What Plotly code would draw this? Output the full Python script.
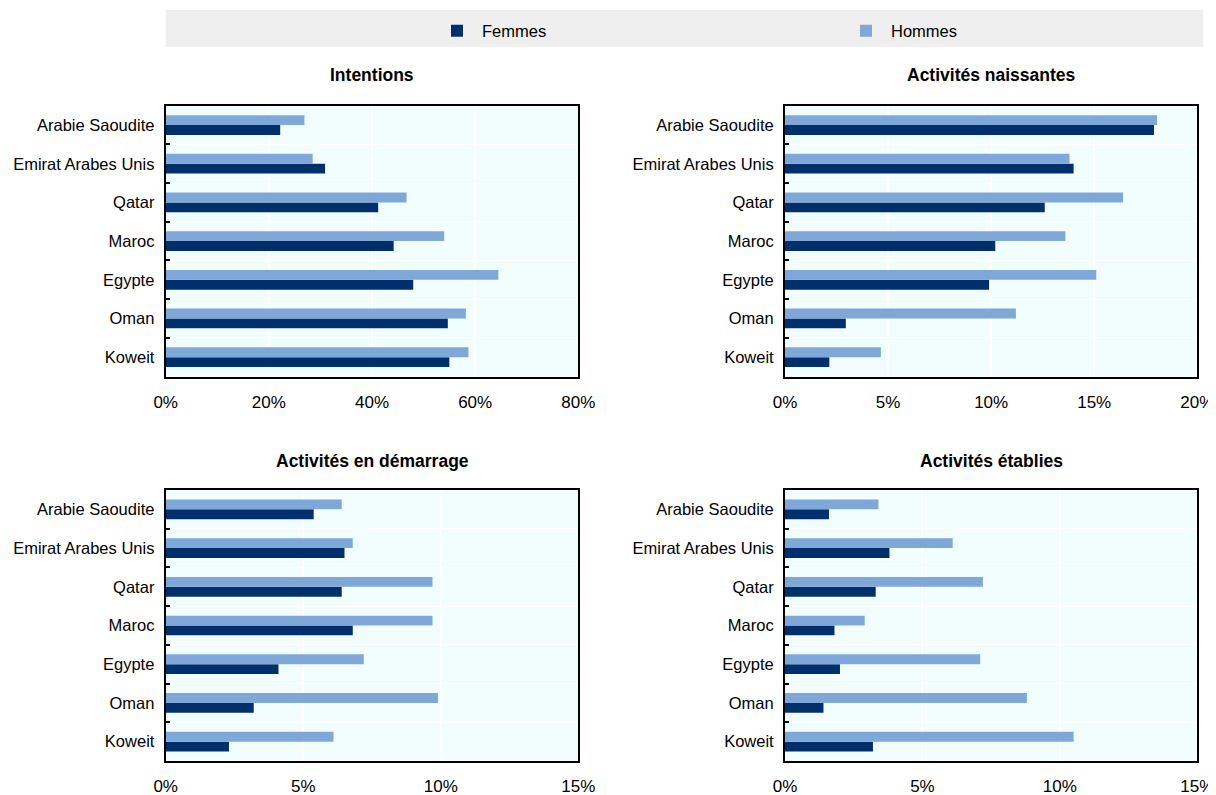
import plotly.graph_objects as go

# The page body has an 8px margin, so the figure is drawn 8px in from the window corner.
OFF = 8
W, H = 1216 - OFF, 795 - OFF

countries = ["Arabie Saoudite", "Emirat Arabes Unis", "Qatar", "Maroc", "Egypte", "Oman", "Koweit"]

panel_titles = ["Intentions", "Activités naissantes", "Activités en démarrage", "Activités établies"]

intentions_femmes = [22.2, 30.9, 41.2, 44.2, 48.0, 54.7, 55.0]
intentions_hommes = [26.9, 28.5, 46.7, 54.0, 64.5, 58.2, 58.7]

naissantes_femmes = [17.9, 14.0, 12.6, 10.2, 9.9, 2.95, 2.15]
naissantes_hommes = [18.05, 13.8, 16.4, 13.6, 15.1, 11.2, 4.65]

demarrage_femmes = [5.38, 6.5, 6.4, 6.8, 4.1, 3.2, 2.3]
demarrage_hommes = [6.4, 6.8, 9.7, 9.7, 7.2, 9.9, 6.1]

etablies_femmes = [1.6, 3.8, 3.3, 1.8, 2.0, 1.4, 3.2]
etablies_hommes = [3.4, 6.1, 7.2, 2.9, 7.1, 8.8, 10.5]

x_ranges = [80, 20, 15, 15]
x_tickvals = [[0, 20, 40, 60, 80], [0, 5, 10, 15, 20], [0, 5, 10, 15], [0, 5, 10, 15]]

DARK = "#002F6C"
LIGHT = "#7FA8D9"
BG = "#F2FEFE"
FONT = "Liberation Sans, Arial, sans-serif"

data_f = [intentions_femmes, naissantes_femmes, demarrage_femmes, etablies_femmes]
data_h = [intentions_hommes, naissantes_hommes, demarrage_hommes, etablies_hommes]

# plot-area boxes in window pixels (x0, x1, ytop, ybottom)
boxes = [
    (165.7, 578.3, 105.7, 376.5),
    (785.0, 1197.3, 105.7, 376.5),
    (165.7, 578.3, 490.0, 761.0),
    (785.0, 1197.3, 490.0, 761.0),
]


def px(x):
    return (x - OFF) / W


def py(y):
    return 1 - (y - OFF) / H


fig = go.Figure()
layout = {}
for i in range(4):
    xa = "x" if i == 0 else f"x{i+1}"
    ya = "y" if i == 0 else f"y{i+1}"
    fig.add_trace(go.Bar(
        y=countries, x=data_f[i], orientation="h", name="Femmes",
        marker=dict(color=DARK, line=dict(width=0)), xaxis=xa, yaxis=ya,
        showlegend=(i == 0), legendgroup="f", legend="legend",
    ))
    fig.add_trace(go.Bar(
        y=countries, x=data_h[i], orientation="h", name="Hommes",
        marker=dict(color=LIGHT, line=dict(width=0)), xaxis=xa, yaxis=ya,
        showlegend=(i == 0), legendgroup="h", legend="legend2",
    ))
    x0, x1, yt, yb = boxes[i]
    xkey = "xaxis" if i == 0 else f"xaxis{i+1}"
    ykey = "yaxis" if i == 0 else f"yaxis{i+1}"
    layout[xkey] = dict(
        domain=[px(x0), px(x1)], anchor=ya, range=[0, x_ranges[i]],
        tickvals=x_tickvals[i], ticktext=[f"{v}%" for v in x_tickvals[i]],
        showgrid=True, gridcolor="white", gridwidth=1.5,
        showline=True, linecolor="black", linewidth=2, mirror=True,
        ticks="", zeroline=False, automargin=False,
        ticklabeloverflow="allow",
        tickfont=dict(size=17, color="black", family=FONT),
        ticklabelstandoff=9,
    )
    layout[ykey] = dict(
        domain=[py(yb), py(yt)], anchor=xa,
        categoryorder="array", categoryarray=countries[::-1],
        tickson="boundaries", ticks="inside", ticklen=4, tickwidth=2, tickcolor="black",
        showgrid=True, gridcolor="white", gridwidth=1,
        showline=True, linecolor="black", linewidth=2, mirror=True,
        zeroline=False, automargin=False,
        tickfont=dict(size=16.5, color="black", family=FONT),
        ticklabelstandoff=6,
    )

annotations = []
title_y = [75, 75, 461, 461]
for i in range(4):
    x0, x1, yt, yb = boxes[i]
    annotations.append(dict(
        text=f"<b>{panel_titles[i]}</b>", x=px((x0 + x1) / 2), y=py(title_y[i]),
        xref="paper", yref="paper", xanchor="center", yanchor="middle",
        showarrow=False, font=dict(size=17.5, color="black", family=FONT),
    ))

shapes = [dict(
    type="rect", xref="paper", yref="paper",
    x0=px(165.7), x1=px(1203), y0=py(47), y1=py(10),
    fillcolor="#EFEFEF", line=dict(width=0), layer="below",
)]

legend_common = dict(
    orientation="h", xanchor="left", yanchor="middle",
    bgcolor="rgba(0,0,0,0)",
    font=dict(size=16.5, family=FONT, color="black"),
    itemwidth=40,
)

fig.update_layout(
    width=W, height=H,
    margin=dict(l=0, r=0, t=0, b=0),
    paper_bgcolor="white",
    plot_bgcolor=BG,
    barmode="group", bargap=0.49, bargroupgap=0,
    font=dict(family=FONT, size=16, color="black"),
    legend=dict(x=px(432), y=py(31), **legend_common),
    legend2=dict(x=px(432 + 409), y=py(31), **legend_common),
    annotations=annotations,
    shapes=shapes,
    **layout,
)

fig.write_html("out.html")
